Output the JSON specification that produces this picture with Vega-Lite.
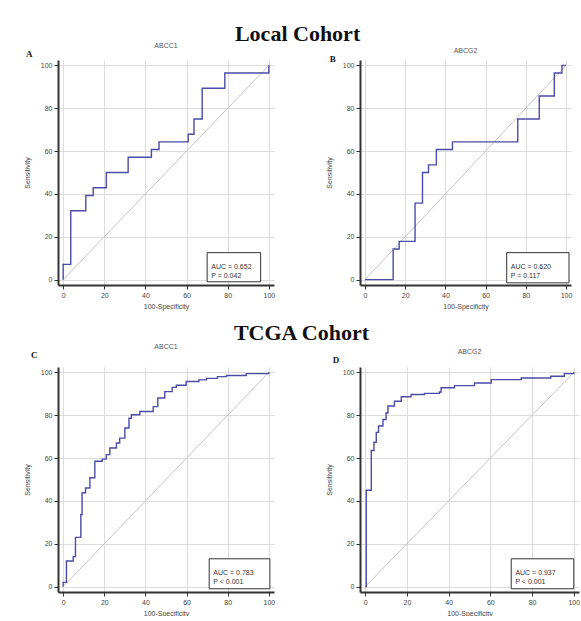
{
  "$schema": "https://vega.github.io/schema/vega-lite/v6.json",
  "background": "white",
  "padding": {"left": 23, "top": 22, "right": 0, "bottom": 0},
  "spacing": 13,
  "datasets": {
    "diag": [{"x": 0, "y": 0}, {"x": 100, "y": 100}],
    "one": [{}],
    "rocA": [
      {"i": 1, "x": 0, "y": 0}, {"i": 2, "x": 0, "y": 7.14}, {"i": 3, "x": 3.7, "y": 7.14}, {"i": 4, "x": 3.7, "y": 32.14},
      {"i": 5, "x": 11, "y": 32.14}, {"i": 6, "x": 11, "y": 39.29}, {"i": 7, "x": 14.6, "y": 39.29}, {"i": 8, "x": 14.6, "y": 42.86},
      {"i": 9, "x": 21, "y": 42.86}, {"i": 10, "x": 21, "y": 50}, {"i": 11, "x": 31.6, "y": 50}, {"i": 12, "x": 31.6, "y": 57.14},
      {"i": 13, "x": 42.9, "y": 57.14}, {"i": 14, "x": 42.9, "y": 60.71}, {"i": 15, "x": 46.6, "y": 60.71}, {"i": 16, "x": 46.6, "y": 64.29},
      {"i": 17, "x": 60.8, "y": 64.29}, {"i": 18, "x": 60.8, "y": 67.86}, {"i": 19, "x": 63.6, "y": 67.86}, {"i": 20, "x": 63.6, "y": 75},
      {"i": 21, "x": 67.6, "y": 75}, {"i": 22, "x": 67.6, "y": 89.29}, {"i": 23, "x": 78.6, "y": 89.29}, {"i": 24, "x": 78.6, "y": 96.43},
      {"i": 25, "x": 100, "y": 96.43}, {"i": 26, "x": 100, "y": 100}
    ],
    "rocB": [
      {"i": 1, "x": 0, "y": 0}, {"i": 2, "x": 14, "y": 0}, {"i": 3, "x": 14, "y": 14.29}, {"i": 4, "x": 17, "y": 14.29},
      {"i": 5, "x": 17, "y": 17.86}, {"i": 6, "x": 24.9, "y": 17.86}, {"i": 7, "x": 24.9, "y": 35.71}, {"i": 8, "x": 28.6, "y": 35.71},
      {"i": 9, "x": 28.6, "y": 50}, {"i": 10, "x": 31.6, "y": 50}, {"i": 11, "x": 31.6, "y": 53.57}, {"i": 12, "x": 35.5, "y": 53.57},
      {"i": 13, "x": 35.5, "y": 60.71}, {"i": 14, "x": 43.5, "y": 60.71}, {"i": 15, "x": 43.5, "y": 64.29}, {"i": 16, "x": 76, "y": 64.29},
      {"i": 17, "x": 76, "y": 75}, {"i": 18, "x": 86.7, "y": 75}, {"i": 19, "x": 86.7, "y": 85.71}, {"i": 20, "x": 94.2, "y": 85.71},
      {"i": 21, "x": 94.2, "y": 96.43}, {"i": 22, "x": 98, "y": 96.43}, {"i": 23, "x": 98, "y": 100}, {"i": 24, "x": 100, "y": 100}
    ],
    "rocC": [
      {"i": 1, "x": 0, "y": 0}, {"i": 2, "x": 0, "y": 2}, {"i": 3, "x": 1.6, "y": 2}, {"i": 4, "x": 1.6, "y": 12},
      {"i": 5, "x": 4.9, "y": 12}, {"i": 6, "x": 4.9, "y": 14}, {"i": 7, "x": 6, "y": 14}, {"i": 8, "x": 6, "y": 23},
      {"i": 9, "x": 8.6, "y": 23}, {"i": 10, "x": 8.6, "y": 33.7}, {"i": 11, "x": 9.2, "y": 33.7}, {"i": 12, "x": 9.2, "y": 43.8},
      {"i": 13, "x": 10.9, "y": 43.8}, {"i": 14, "x": 10.9, "y": 46}, {"i": 15, "x": 13, "y": 46}, {"i": 16, "x": 13, "y": 50.8},
      {"i": 17, "x": 15.4, "y": 50.8}, {"i": 18, "x": 15.4, "y": 58.5}, {"i": 19, "x": 19, "y": 58.5}, {"i": 20, "x": 19, "y": 59.5},
      {"i": 21, "x": 21, "y": 59.5}, {"i": 22, "x": 21, "y": 61.6}, {"i": 23, "x": 22.7, "y": 61.6}, {"i": 24, "x": 22.7, "y": 64.7},
      {"i": 25, "x": 25.9, "y": 64.7}, {"i": 26, "x": 25.9, "y": 67}, {"i": 27, "x": 27.5, "y": 67}, {"i": 28, "x": 27.5, "y": 69.3},
      {"i": 29, "x": 30, "y": 69.3}, {"i": 30, "x": 30, "y": 74}, {"i": 31, "x": 32, "y": 74}, {"i": 32, "x": 32, "y": 78.6},
      {"i": 33, "x": 33.2, "y": 78.6}, {"i": 34, "x": 33.2, "y": 80.2}, {"i": 35, "x": 37.3, "y": 80.2}, {"i": 36, "x": 37.3, "y": 81.7},
      {"i": 37, "x": 43.8, "y": 81.7}, {"i": 38, "x": 43.8, "y": 84}, {"i": 39, "x": 46, "y": 84}, {"i": 40, "x": 46, "y": 88},
      {"i": 41, "x": 49.4, "y": 88}, {"i": 42, "x": 49.4, "y": 91}, {"i": 43, "x": 53, "y": 91}, {"i": 44, "x": 53, "y": 93},
      {"i": 45, "x": 55, "y": 93}, {"i": 46, "x": 55, "y": 94}, {"i": 47, "x": 59.8, "y": 94}, {"i": 48, "x": 59.8, "y": 95.7},
      {"i": 49, "x": 66, "y": 95.7}, {"i": 50, "x": 66, "y": 96.5}, {"i": 51, "x": 69.7, "y": 96.5}, {"i": 52, "x": 69.7, "y": 97.2},
      {"i": 53, "x": 75, "y": 97.2}, {"i": 54, "x": 75, "y": 98}, {"i": 55, "x": 79.4, "y": 98}, {"i": 56, "x": 79.4, "y": 98.5},
      {"i": 57, "x": 89, "y": 98.5}, {"i": 58, "x": 89, "y": 99.4}, {"i": 59, "x": 100, "y": 99.4}, {"i": 60, "x": 100, "y": 100}
    ],
    "rocD": [
      {"i": 1, "x": 0, "y": 0}, {"i": 2, "x": 0.5, "y": 0}, {"i": 3, "x": 0.5, "y": 45}, {"i": 4, "x": 2.9, "y": 45},
      {"i": 5, "x": 2.9, "y": 63.5}, {"i": 6, "x": 4.2, "y": 63.5}, {"i": 7, "x": 4.2, "y": 67.4}, {"i": 8, "x": 5.3, "y": 67.4},
      {"i": 9, "x": 5.3, "y": 72}, {"i": 10, "x": 6.4, "y": 72}, {"i": 11, "x": 6.4, "y": 75}, {"i": 12, "x": 8.5, "y": 75},
      {"i": 13, "x": 8.5, "y": 78}, {"i": 14, "x": 10, "y": 78}, {"i": 15, "x": 10, "y": 81}, {"i": 16, "x": 10.9, "y": 81},
      {"i": 17, "x": 10.9, "y": 84.3}, {"i": 18, "x": 14, "y": 84.3}, {"i": 19, "x": 14, "y": 86.5}, {"i": 20, "x": 17.3, "y": 86.5},
      {"i": 21, "x": 17.3, "y": 88.6}, {"i": 22, "x": 22, "y": 88.6}, {"i": 23, "x": 22, "y": 89.7}, {"i": 24, "x": 28.4, "y": 89.7},
      {"i": 25, "x": 28.4, "y": 90.2}, {"i": 26, "x": 35.6, "y": 90.2}, {"i": 27, "x": 35.6, "y": 90.8}, {"i": 28, "x": 36.4, "y": 90.8},
      {"i": 29, "x": 36.4, "y": 92.8}, {"i": 30, "x": 42.8, "y": 92.8}, {"i": 31, "x": 42.8, "y": 93.8}, {"i": 32, "x": 52.4, "y": 93.8},
      {"i": 33, "x": 52.4, "y": 95}, {"i": 34, "x": 60.4, "y": 95}, {"i": 35, "x": 60.4, "y": 96.6}, {"i": 36, "x": 74.8, "y": 96.6},
      {"i": 37, "x": 74.8, "y": 97.4}, {"i": 38, "x": 89, "y": 97.4}, {"i": 39, "x": 89, "y": 98.2}, {"i": 40, "x": 95.5, "y": 98.2},
      {"i": 41, "x": 95.5, "y": 99.4}, {"i": 42, "x": 100, "y": 99.4}, {"i": 43, "x": 100, "y": 100}
    ]
  },
  "vconcat": [
    {
      "title": {"text": "Local Cohort", "font": "Liberation Serif", "fontSize": 22, "fontWeight": "bold", "color": "#111", "anchor": "middle", "offset": -4},
      "spacing": 50,
      "hconcat": [
        {
          "width": 216, "height": 225,
          "title": {"text": "ABCC1", "font": "Liberation Sans", "fontSize": 7, "fontWeight": "normal", "color": "#555", "offset": 1},
          "layer": [
            {"data": {"name": "diag"}, "mark": {"type": "line", "color": "#c4c4c4", "strokeWidth": 1},
             "encoding": {
               "x": {"field": "x", "type": "quantitative", "scale": {"domain": [-2.5, 102.5], "nice": false}, "axis": {"title": "100-Specificity", "values": [0, 20, 40, 60, 80, 100]}},
               "y": {"field": "y", "type": "quantitative", "scale": {"domain": [-2.5, 102.5], "nice": false}, "axis": {"title": "Sensitivity", "values": [0, 20, 40, 60, 80, 100], "titlePadding": 10}}
             }},
            {"data": {"name": "rocA"}, "mark": {"type": "line", "color": "#4b4ba8", "strokeWidth": 1.4},
             "encoding": {"x": {"field": "x", "type": "quantitative"}, "y": {"field": "y", "type": "quantitative"}, "order": {"field": "i", "type": "quantitative"}}},
            {"data": {"name": "one"}, "mark": {"type": "rect", "fill": "white", "stroke": "#333", "strokeWidth": 1},
             "encoding": {"x": {"datum": 70, "type": "quantitative"}, "x2": {"datum": 96}, "y": {"datum": -1, "type": "quantitative"}, "y2": {"datum": 12.6}}},
            {"data": {"name": "one"}, "mark": {"type": "text", "align": "left", "baseline": "middle", "font": "Liberation Sans", "fontSize": 7, "lineHeight": 9, "color": "#333"},
             "encoding": {"x": {"datum": 72, "type": "quantitative"}, "y": {"datum": 6, "type": "quantitative"}, "text": {"value": ["AUC = 0.652", "P = 0.042"]}}},
            {"data": {"name": "one"}, "mark": {"type": "text", "font": "Liberation Serif", "fontSize": 9, "fontWeight": "bold", "color": "#111"},
             "encoding": {"x": {"datum": -16.5, "type": "quantitative"}, "y": {"datum": 105.5, "type": "quantitative"}, "text": {"value": "A"}}}
          ]
        },
        {
          "width": 211, "height": 225,
          "title": {"text": "ABCG2", "font": "Liberation Sans", "fontSize": 7, "fontWeight": "normal", "color": "#555", "offset": 1},
          "layer": [
            {"data": {"name": "diag"}, "mark": {"type": "line", "color": "#c4c4c4", "strokeWidth": 1},
             "encoding": {
               "x": {"field": "x", "type": "quantitative", "scale": {"domain": [-2.5, 102.5], "nice": false}, "axis": {"title": "100-Specificity", "values": [0, 20, 40, 60, 80, 100]}},
               "y": {"field": "y", "type": "quantitative", "scale": {"domain": [-2.5, 102.5], "nice": false}, "axis": {"title": "Sensitivity", "values": [0, 20, 40, 60, 80, 100], "titlePadding": 10}}
             }},
            {"data": {"name": "rocB"}, "mark": {"type": "line", "color": "#4b4ba8", "strokeWidth": 1.4},
             "encoding": {"x": {"field": "x", "type": "quantitative"}, "y": {"field": "y", "type": "quantitative"}, "order": {"field": "i", "type": "quantitative"}}},
            {"data": {"name": "one"}, "mark": {"type": "rect", "fill": "white", "stroke": "#333", "strokeWidth": 1},
             "encoding": {"x": {"datum": 70.5, "type": "quantitative"}, "x2": {"datum": 101.5}, "y": {"datum": -1.5, "type": "quantitative"}, "y2": {"datum": 12.6}}},
            {"data": {"name": "one"}, "mark": {"type": "text", "align": "left", "baseline": "middle", "font": "Liberation Sans", "fontSize": 7, "lineHeight": 9, "color": "#333"},
             "encoding": {"x": {"datum": 72.5, "type": "quantitative"}, "y": {"datum": 6, "type": "quantitative"}, "text": {"value": ["AUC = 0.620", "P = 0.117"]}}},
            {"data": {"name": "one"}, "mark": {"type": "text", "font": "Liberation Serif", "fontSize": 9, "fontWeight": "bold", "color": "#111"},
             "encoding": {"x": {"datum": -16, "type": "quantitative"}, "y": {"datum": 103, "type": "quantitative"}, "text": {"value": "B"}}}
          ]
        }
      ]
    },
    {
      "title": {"text": "TCGA Cohort", "font": "Liberation Serif", "fontSize": 22, "fontWeight": "bold", "color": "#111", "anchor": "middle", "offset": -2},
      "spacing": 50,
      "hconcat": [
        {
          "width": 216, "height": 225,
          "title": {"text": "ABCC1", "font": "Liberation Sans", "fontSize": 7, "fontWeight": "normal", "color": "#555", "offset": 1},
          "layer": [
            {"data": {"name": "diag"}, "mark": {"type": "line", "color": "#c4c4c4", "strokeWidth": 1},
             "encoding": {
               "x": {"field": "x", "type": "quantitative", "scale": {"domain": [-2.5, 102.5], "nice": false}, "axis": {"title": "100-Specificity", "values": [0, 20, 40, 60, 80, 100]}},
               "y": {"field": "y", "type": "quantitative", "scale": {"domain": [-2.5, 102.5], "nice": false}, "axis": {"title": "Sensitivity", "values": [0, 20, 40, 60, 80, 100], "titlePadding": 10}}
             }},
            {"data": {"name": "rocC"}, "mark": {"type": "line", "color": "#4b4ba8", "strokeWidth": 1.4},
             "encoding": {"x": {"field": "x", "type": "quantitative"}, "y": {"field": "y", "type": "quantitative"}, "order": {"field": "i", "type": "quantitative"}}},
            {"data": {"name": "one"}, "mark": {"type": "rect", "fill": "white", "stroke": "#333", "strokeWidth": 1},
             "encoding": {"x": {"datum": 71, "type": "quantitative"}, "x2": {"datum": 100.5}, "y": {"datum": -1, "type": "quantitative"}, "y2": {"datum": 13}}},
            {"data": {"name": "one"}, "mark": {"type": "text", "align": "left", "baseline": "middle", "font": "Liberation Sans", "fontSize": 7, "lineHeight": 9, "color": "#333"},
             "encoding": {"x": {"datum": 73, "type": "quantitative"}, "y": {"datum": 6.5, "type": "quantitative"}, "text": {"value": ["AUC = 0.783", "P < 0.001"]}}},
            {"data": {"name": "one"}, "mark": {"type": "text", "font": "Liberation Serif", "fontSize": 9, "fontWeight": "bold", "color": "#111"},
             "encoding": {"x": {"datum": -14, "type": "quantitative"}, "y": {"datum": 108, "type": "quantitative"}, "text": {"value": "C"}}}
          ]
        },
        {
          "width": 219, "height": 225,
          "title": {"text": "ABCG2", "font": "Liberation Sans", "fontSize": 7, "fontWeight": "normal", "color": "#555", "offset": 1},
          "layer": [
            {"data": {"name": "diag"}, "mark": {"type": "line", "color": "#c4c4c4", "strokeWidth": 1},
             "encoding": {
               "x": {"field": "x", "type": "quantitative", "scale": {"domain": [-2.5, 102.5], "nice": false}, "axis": {"title": "100-Specificity", "values": [0, 20, 40, 60, 80, 100]}},
               "y": {"field": "y", "type": "quantitative", "scale": {"domain": [-2.5, 102.5], "nice": false}, "axis": {"title": "Sensitivity", "values": [0, 20, 40, 60, 80, 100], "titlePadding": 10}}
             }},
            {"data": {"name": "rocD"}, "mark": {"type": "line", "color": "#4b4ba8", "strokeWidth": 1.4},
             "encoding": {"x": {"field": "x", "type": "quantitative"}, "y": {"field": "y", "type": "quantitative"}, "order": {"field": "i", "type": "quantitative"}}},
            {"data": {"name": "one"}, "mark": {"type": "rect", "fill": "white", "stroke": "#333", "strokeWidth": 1},
             "encoding": {"x": {"datum": 70, "type": "quantitative"}, "x2": {"datum": 100}, "y": {"datum": -1, "type": "quantitative"}, "y2": {"datum": 13}}},
            {"data": {"name": "one"}, "mark": {"type": "text", "align": "left", "baseline": "middle", "font": "Liberation Sans", "fontSize": 7, "lineHeight": 9, "color": "#333"},
             "encoding": {"x": {"datum": 72, "type": "quantitative"}, "y": {"datum": 6.5, "type": "quantitative"}, "text": {"value": ["AUC = 0.937", "P < 0.001"]}}},
            {"data": {"name": "one"}, "mark": {"type": "text", "font": "Liberation Serif", "fontSize": 9, "fontWeight": "bold", "color": "#111"},
             "encoding": {"x": {"datum": -14, "type": "quantitative"}, "y": {"datum": 106, "type": "quantitative"}, "text": {"value": "D"}}}
          ]
        }
      ]
    }
  ],
  "config": {
    "view": {"stroke": null},
    "axis": {
      "labelFont": "Liberation Sans", "labelFontSize": 7, "labelColor": "#444", "labelPadding": 2, "labelOverlap": false,
      "titleFont": "Liberation Sans", "titleFontSize": 7, "titleFontWeight": "normal", "titleColor": "#444",
      "domainColor": "#333", "domainWidth": 2, "tickColor": "#333", "tickWidth": 1, "tickSize": 4,
      "grid": true, "gridColor": "#dcdcdc", "gridWidth": 1
    },
    "axisX": {"titlePadding": 4}
  }
}
